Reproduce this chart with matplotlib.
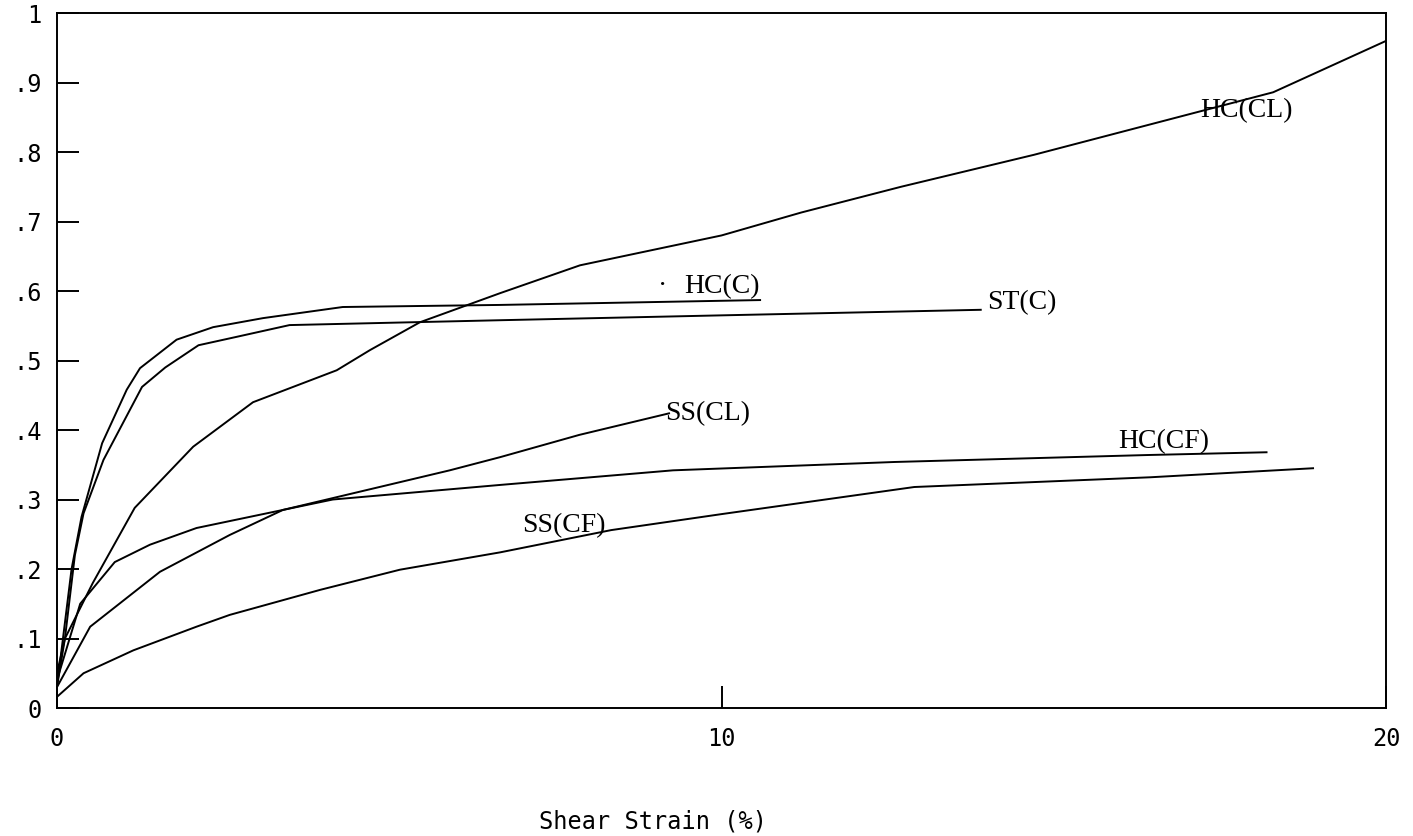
import matplotlib
matplotlib.use("Agg")
import matplotlib.pyplot as plt

# curves (shear strain %, y value)
hc_cl_x = [0, 0.12, 0.54, 1.17, 2.05, 2.95, 4.21, 4.71, 5.46, 6.67, 7.87, 10.0, 11.2, 12.7, 14.7, 17.1, 18.3, 20.0]
hc_cl_y = [0.05, 0.10, 0.18, 0.288, 0.376, 0.44, 0.486, 0.515, 0.555, 0.597, 0.637, 0.68, 0.713, 0.75, 0.796, 0.856, 0.886, 0.96]

hc_c_x = [0, 0.22, 0.37, 0.68, 1.05, 1.25, 1.8, 2.35, 3.1, 4.3, 6.67, 10.58]
hc_c_y = [0.03, 0.2, 0.275, 0.381, 0.458, 0.489, 0.53, 0.548, 0.561, 0.577, 0.58, 0.587]

st_c_x = [0, 0.12, 0.27, 0.4, 0.7, 1.28, 1.63, 2.13, 2.7, 3.5, 6.67, 10.0, 13.9]
st_c_y = [0.03, 0.10, 0.22, 0.28, 0.357, 0.462, 0.49, 0.522, 0.534, 0.551, 0.558, 0.565, 0.573]

hc_cf_x = [0, 0.35, 0.87, 1.4, 2.1, 3.4, 4.15, 6.67, 9.27, 12.6, 16.4, 18.2]
hc_cf_y = [0.04, 0.15, 0.21, 0.235, 0.259, 0.285, 0.30, 0.321, 0.342, 0.354, 0.364, 0.368]

ss_cl_x = [0, 0.5, 1.55, 2.6, 3.4, 5.91, 6.67, 7.86, 9.21]
ss_cl_y = [0.03, 0.117, 0.196, 0.249, 0.285, 0.342, 0.361, 0.393, 0.424]

ss_cf_x = [0, 0.4, 1.15, 2.1, 2.6, 3.96, 5.16, 6.67, 8.34, 10.0, 12.9, 16.45, 18.9]
ss_cf_y = [0.016, 0.05, 0.083, 0.117, 0.134, 0.17, 0.199, 0.224, 0.256, 0.279, 0.318, 0.332, 0.345]

# curve labels: text, x, y (the stray dot sits left of HC(C) in the original)
labels = ["HC(CL)", "\u00b7", "HC(C)", "ST(C)", "SS(CL)", "HC(CF)", "SS(CF)"]
label_x = [17.2, 9.05, 9.44, 14.0, 9.15, 15.97, 7.0]
label_y = [0.86, 0.606, 0.606, 0.583, 0.424, 0.383, 0.263]

yticks = [0, .1, .2, .3, .4, .5, .6, .7, .8, .9, 1]
ytick_labels = ["0", ".1", ".2", ".3", ".4", ".5", ".6", ".7", ".8", ".9", "1"]
xticks = [0, 10, 20]
xtick_labels = ["0", "10", "20"]

fig = plt.figure(figsize=(14.13, 8.36), dpi=100)
ax = fig.add_axes([0.0403, 0.1531, 0.9407, 0.8313])

for xs, ys in [(hc_cl_x, hc_cl_y), (hc_c_x, hc_c_y), (st_c_x, st_c_y),
               (hc_cf_x, hc_cf_y), (ss_cl_x, ss_cl_y), (ss_cf_x, ss_cf_y)]:
    ax.plot(xs, ys, color="black", linewidth=1.4)

for t, x, y in zip(labels, label_x, label_y):
    ax.text(x, y, t, ha="left", va="center", fontsize=20,
            family="Liberation Serif", color="black")

ax.set_xlim(0, 20)
ax.set_ylim(0, 1)
ax.set_yticks(yticks)
ax.set_yticklabels(ytick_labels)
ax.set_xticks(xticks)
ax.set_xticklabels(xtick_labels)
ax.tick_params(axis="y", direction="in", length=16, width=1.4, pad=11,
               labelsize=17)
ax.tick_params(axis="x", direction="in", length=16, width=1.4, pad=14,
               labelsize=17)
for lab in ax.get_xticklabels() + ax.get_yticklabels():
    lab.set_family("DejaVu Sans Mono")
for s in ax.spines.values():
    s.set_linewidth(1.4)

fig.text(653 / 1413, 1 - 822 / 836, "Shear Strain (%)", ha="center",
         va="center", fontsize=17, family="DejaVu Sans Mono")

fig.savefig("out.png", dpi=100)
